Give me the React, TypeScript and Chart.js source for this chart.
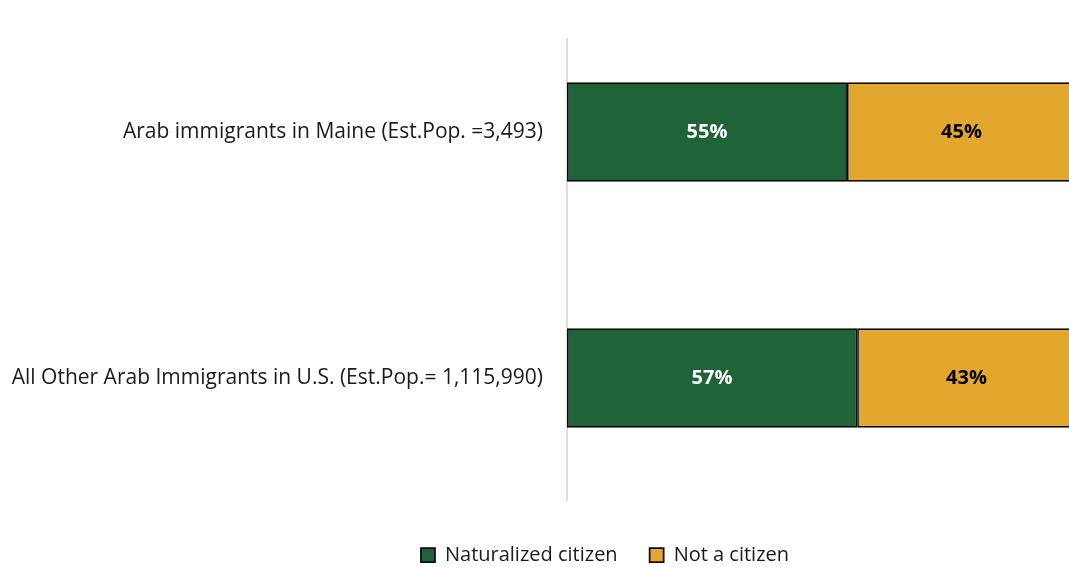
import React, { useEffect, useRef } from "react";
import { Chart, registerables } from "chart.js";

Chart.register(...registerables);

const categories = [
  "Arab immigrants in Maine (Est.Pop. =3,493)",
  "All Other Arab Immigrants in U.S. (Est.Pop.= 1,115,990)",
];
const naturalized = [55, 57];
const notCitizen = [45, 43];
const seriesNames = ["Naturalized citizen", "Not a citizen"];

const FONT = "'Open Sans', 'Noto Sans', sans-serif";

const axisLinePlugin = {
  id: "axisLine",
  beforeDatasetsDraw(chart: any) {
    const { ctx, chartArea } = chart;
    ctx.save();
    ctx.strokeStyle = "#d4d4d4";
    ctx.lineWidth = 1.5;
    ctx.beginPath();
    ctx.moveTo(chartArea.left, chartArea.top + 29);
    ctx.lineTo(chartArea.left, chartArea.bottom);
    ctx.stroke();
    ctx.restore();
  },
};

const valueLabelPlugin = {
  id: "valueLabels",
  afterDatasetsDraw(chart: any) {
    const { ctx } = chart;
    ctx.save();
    ctx.font = `bold 20px ${FONT}`;
    ctx.textAlign = "center";
    ctx.textBaseline = "middle";
    chart.data.datasets.forEach((ds: any, di: number) => {
      const meta = chart.getDatasetMeta(di);
      meta.data.forEach((el: any, i: number) => {
        const p = el.getProps(["x", "y", "base"], true);
        const cx = (p.x + p.base) / 2;
        ctx.fillStyle = di === 0 ? "#ffffff" : "#000000";
        ctx.fillText(`${ds.data[i]}%`, cx, p.y);
      });
    });
    ctx.restore();
  },
};

export default function App() {
  const ref = useRef<HTMLCanvasElement>(null);
  useEffect(() => {
    if (!ref.current) return;
    const chart = new Chart(ref.current, {
      type: "bar",
      data: {
        labels: categories,
        datasets: [
          {
            label: seriesNames[0],
            data: naturalized,
            backgroundColor: "#1f6339",
            borderColor: "#0a0a0a",
            borderWidth: 1.75,
            borderSkipped: false,
            categoryPercentage: 1,
            barPercentage: 0.405,
          },
          {
            label: seriesNames[1],
            data: notCitizen,
            backgroundColor: "#e2a72c",
            borderColor: "#0a0a0a",
            borderWidth: 1.75,
            borderSkipped: false,
            categoryPercentage: 1,
            barPercentage: 0.405,
          },
        ],
      },
      options: {
        indexAxis: "y",
        animation: false,
        responsive: false,
        layout: { padding: { top: 9, left: 0, right: 0, bottom: 45 } },
        scales: {
          x: {
            stacked: true,
            min: 0,
            max: 100,
            display: true,
            grid: { display: false },
            border: { display: false },
            ticks: { display: false },
            afterFit: (s: any) => {
              s.height = 12;
            },
          },
          y: {
            stacked: true,
            grid: { display: false },
            border: { display: false },
            ticks: {
              padding: 16,
              color: "#1a1a1a",
              font: { family: FONT, size: 21 },
            },
            afterFit: (s: any) => {
              s.width = 567;
              s.paddingTop = 0;
              s.paddingBottom = 0;
            },
          },
          yRight: {
            type: "linear",
            position: "right",
            display: true,
            grid: { display: false },
            border: { display: false },
            ticks: { display: false },
            afterFit: (s: any) => {
              s.width = 134;
            },
          },
        },
        plugins: {
          legend: {
            position: "bottom",
            labels: {
              boxWidth: 14,
              boxHeight: 14,
              padding: 32,
              color: "#1a1a1a",
              font: { family: FONT, size: 20 },
            },
          },
          tooltip: { enabled: false },
        },
      },
      plugins: [axisLinePlugin, valueLabelPlugin],
    });
    return () => chart.destroy();
  }, []);
  return (
    <div
      style={{
        position: "fixed",
        left: 0,
        top: 0,
        width: 1069,
        height: 567,
        overflow: "hidden",
        background: "#fff",
      }}
    >
      <canvas ref={ref} width={1210} height={620} style={{ display: "block" }} />
    </div>
  );
}
